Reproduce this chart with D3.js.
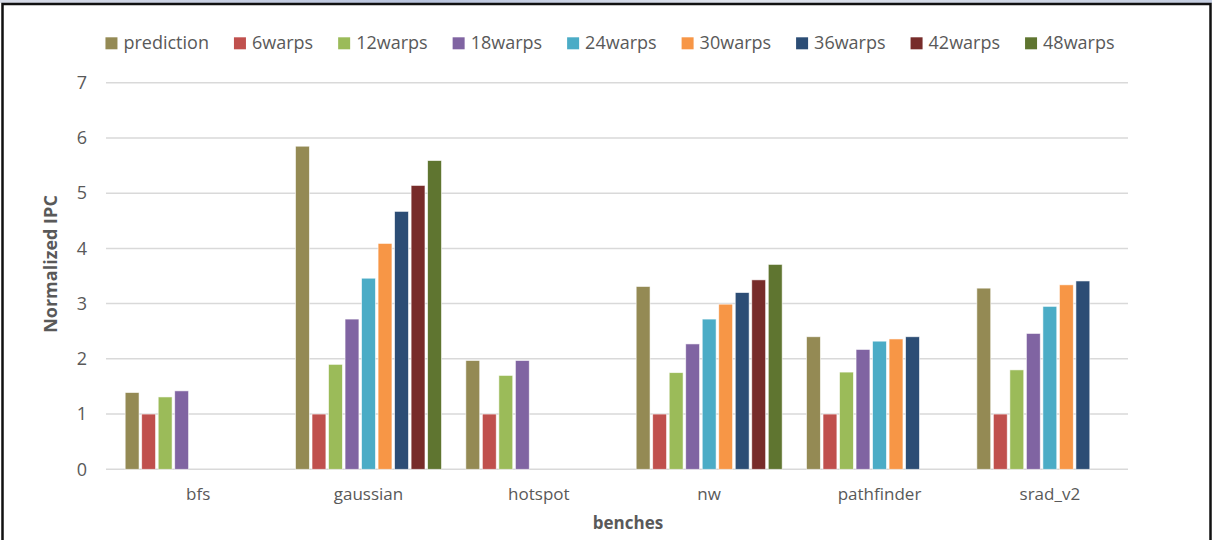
<!DOCTYPE html>
<html>
<head>
<meta charset="utf-8">
<script src="https://cdn.jsdelivr.net/npm/d3@7"></script>
<style>
  html, body { margin: 0; padding: 0; background: #fff; }
  svg { display: block; font-family: "Open Sans", sans-serif; }
</style>
</head>
<body>
<svg id="chart" width="1212" height="540"></svg>
<script>
// Benchmarks on the x axis
const benches = ["bfs", "gaussian", "hotspot", "nw", "pathfinder", "srad_v2"];

// Series names (legend order)
const seriesNames = ["prediction", "6warps", "12warps", "18warps", "24warps",
                     "30warps", "36warps", "42warps", "48warps"];

// Normalized IPC per series, one value per benchmark (null = not measured)
const prediction = [1.39, 5.85, 1.97, 3.31, 2.40, 3.28];
const warps6     = [1.00, 1.00, 1.00, 1.00, 1.00, 1.00];
const warps12    = [1.31, 1.90, 1.70, 1.75, 1.76, 1.80];
const warps18    = [1.42, 2.72, 1.97, 2.27, 2.17, 2.46];
const warps24    = [null, 3.46, null, 2.72, 2.32, 2.95];
const warps30    = [null, 4.09, null, 2.99, 2.36, 3.34];
const warps36    = [null, 4.67, null, 3.20, 2.40, 3.41];
const warps42    = [null, 5.14, null, 3.43, null, null];
const warps48    = [null, 5.59, null, 3.71, null, null];

const yTicks = [0, 1, 2, 3, 4, 5, 6, 7];

const seriesValues = [prediction, warps6, warps12, warps18, warps24,
                      warps30, warps36, warps42, warps48];

const colors = ["#948A54", "#C0504D", "#9BBB59", "#8064A2", "#4BACC6",
                "#F79646", "#2C4D75", "#772C2A", "#5F7530"];

const svg = d3.select("#chart");
const textColor = "#595959";

// Plot area
const plot = { left: 106, right: 1128, top: 82.7, bottom: 469.3 };

// Faint strip above the frame
const grad = svg.append("defs").append("linearGradient").attr("id", "strip");
grad.append("stop").attr("offset", "0%").attr("stop-color", "#d8dce8");
grad.append("stop").attr("offset", "35%").attr("stop-color", "#b9c4de");
grad.append("stop").attr("offset", "60%").attr("stop-color", "#dfe3ec");
grad.append("stop").attr("offset", "100%").attr("stop-color", "#c4cde0");
svg.append("rect").attr("x", 0).attr("y", 0).attr("width", 1212).attr("height", 3)
  .attr("fill", "url(#strip)");

// Frame
svg.append("rect")
  .attr("x", 2.5).attr("y", 4).attr("width", 1208).attr("height", 600)
  .attr("fill", "#fff").attr("stroke", "#111").attr("stroke-width", 2.5);

// Scales
const y = d3.scaleLinear().domain([0, 7]).range([plot.bottom, plot.top]);

const x0 = d3.scaleBand()
  .domain(benches)
  .range([plot.left + 7, plot.right + 7])
  .paddingInner(0.143)
  .paddingOuter(0.0715);

const x1 = d3.scaleBand()
  .domain(seriesNames)
  .range([0, x0.bandwidth()])
  .paddingInner(0.16);

// Horizontal gridlines
svg.append("g")
  .selectAll("line")
  .data(yTicks)
  .join("line")
  .attr("x1", plot.left).attr("x2", plot.right)
  .attr("y1", d => y(d)).attr("y2", d => y(d))
  .attr("stroke", "#d9d9d9").attr("stroke-width", 1.5);

// Y axis labels
const yAxis = d3.axisLeft(y).tickValues(yTicks).tickFormat(d3.format("d"))
  .tickSize(0).tickPadding(0);
const gy = svg.append("g").attr("transform", `translate(${plot.left - 19},0)`).call(yAxis);
gy.select(".domain").remove();
gy.selectAll("text")
  .attr("fill", textColor)
  .style("font-family", "'Open Sans', sans-serif")
  .style("font-size", "18px");

// X axis labels
const xAxis = d3.axisBottom(x0).tickSize(0).tickPadding(0);
const gx = svg.append("g").attr("transform", `translate(0,${plot.bottom})`).call(xAxis);
gx.select(".domain").remove();
gx.selectAll("text")
  .attr("y", 0).attr("dy", 0)
  .attr("transform", "translate(0,31)")
  .attr("fill", textColor)
  .style("font-family", "'Open Sans', sans-serif")
  .style("font-size", "17px");

// Bars
const rows = [];
benches.forEach((b, i) => {
  seriesNames.forEach((s, j) => {
    const v = seriesValues[j][i];
    if (v !== null) rows.push({ bench: b, series: s, value: v, color: colors[j] });
  });
});

svg.append("g")
  .selectAll("rect")
  .data(rows)
  .join("rect")
  .attr("x", d => x0(d.bench) + x1(d.series))
  .attr("y", d => y(d.value))
  .attr("width", x1.bandwidth())
  .attr("height", d => y(0) - y(d.value))
  .attr("fill", d => d.color)
  .attr("stroke", "#ffffff")
  .attr("stroke-opacity", 0.7)
  .attr("stroke-width", 0.8);

// Axis titles
svg.append("text")
  .attr("transform", "translate(57,264) rotate(-90)")
  .attr("text-anchor", "middle")
  .attr("fill", textColor)
  .style("font-size", "18px")
  .style("font-weight", "bold")
  .text("Normalized IPC");

svg.append("text")
  .attr("x", 628).attr("y", 529)
  .attr("text-anchor", "middle")
  .attr("fill", textColor)
  .style("font-size", "17px")
  .style("font-weight", "bold")
  .text("benches");

// Legend
const legend = svg.append("g");
let lx = 0;
seriesNames.forEach((s, j) => {
  const item = legend.append("g").attr("transform", `translate(${lx},0)`);
  item.append("rect").attr("x", 0).attr("y", 37.3).attr("width", 12).attr("height", 12)
    .attr("fill", colors[j]);
  const t = item.append("text").attr("x", 18).attr("y", 49)
    .attr("fill", textColor).style("font-size", "18px").text(s);
  lx += 18 + t.node().getComputedTextLength() + 25;
});
const legendWidth = lx - 25;
legend.attr("transform", `translate(${610 - legendWidth / 2},0)`);
</script>
</body>
</html>
